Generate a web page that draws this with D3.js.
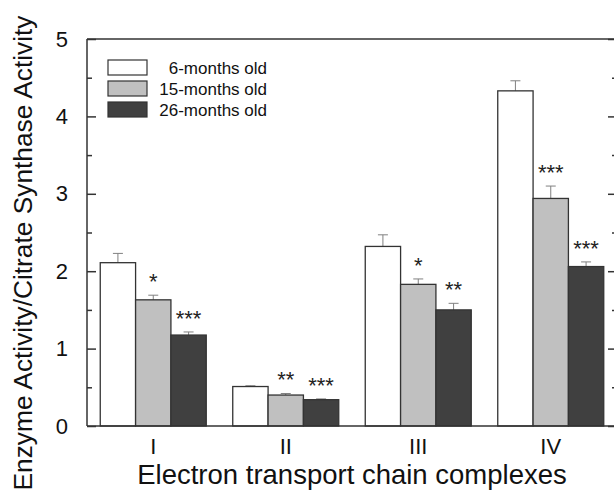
<!DOCTYPE html>
<html><head><meta charset="utf-8">
<script src="https://cdn.jsdelivr.net/npm/d3@7"></script>
<style>html,body{margin:0;padding:0;background:#fff;}svg{display:block;font-family:"Liberation Sans",Arial,sans-serif;}</style>
</head><body><svg id="c" width="614" height="491"></svg>
<script>
const categories = ["I", "II", "III", "IV"];
const seriesNames = ["6-months old", "15-months old", "26-months old"];
const values6 = [2.11, 0.51, 2.32, 4.33];
const values15 = [1.63, 0.40, 1.83, 2.94];
const values26 = [1.175, 0.34, 1.50, 2.06];
const err6 = [0.12, 0.01, 0.15, 0.13];
const err15 = [0.06, 0.02, 0.07, 0.16];
const err26 = [0.04, 0.01, 0.085, 0.06];
const sig6 = ["", "", "", ""];
const sig15 = ["*", "**", "*", "***"];
const sig26 = ["***", "***", "**", "***"];
const yTicks = [0, 1, 2, 3, 4, 5];
const yMinor = [0.5, 1.5, 2.5, 3.5, 4.5];
const fills = ["#ffffff", "#c0c0c0", "#404040"];

const allVals = [values6, values15, values26];
const allErr = [err6, err15, err26];
const allSig = [sig6, sig15, sig26];

const svg = d3.select("#c");
const L = 87, R = 617, T = 39, B = 426;
const x = d3.scaleBand().domain(categories).range([L, R]).paddingInner(0.2).paddingOuter(0.1);
const xs = d3.scaleBand().domain(d3.range(seriesNames.length)).range([0, x.bandwidth()]);
const y = d3.scaleLinear().domain([0, 5]).range([B, T]);

const data = [];
categories.forEach((c, i) => seriesNames.forEach((s, j) => data.push({c, j, v: allVals[j][i], e: allErr[j][i], sig: allSig[j][i]})));

// error bars (behind bars)
const eg = svg.append("g").attr("stroke", "#808080").attr("stroke-width", 1);
data.forEach(d => {
  const cx = x(d.c) + xs(d.j) + xs.bandwidth() / 2;
  eg.append("line").attr("x1", cx).attr("x2", cx).attr("y1", y(d.v)).attr("y2", y(d.v + d.e));
  eg.append("line").attr("x1", cx - 5).attr("x2", cx + 5).attr("y1", y(d.v + d.e)).attr("y2", y(d.v + d.e));
});

svg.append("g").selectAll("rect").data(data).join("rect")
  .attr("x", d => x(d.c) + xs(d.j))
  .attr("width", xs.bandwidth())
  .attr("y", d => y(d.v))
  .attr("height", d => y(0) - y(d.v))
  .attr("fill", d => fills[d.j])
  .attr("stroke", "#333")
  .attr("stroke-width", 1.3);

svg.append("g").selectAll("text").data(data.filter(d => d.sig)).join("text")
  .attr("x", d => x(d.c) + xs(d.j) + xs.bandwidth() / 2)
  .attr("y", d => y(d.v + d.e) - 6)
  .attr("text-anchor", "middle")
  .attr("font-size", 22)
  .attr("fill", "#222")
  .text(d => d.sig);

// frame
const ax = svg.append("g").attr("stroke", "#333").attr("stroke-width", 1.5).attr("fill", "none");
ax.append("line").attr("x1", L).attr("x2", R).attr("y1", B).attr("y2", B);
ax.append("line").attr("x1", L).attr("x2", R).attr("y1", T).attr("y2", T);
ax.append("line").attr("x1", L).attr("x2", L).attr("y1", T).attr("y2", B);
ax.append("line").attr("x1", R).attr("x2", R).attr("y1", T).attr("y2", B);

// y axes with inward ticks
const leftAxis = d3.axisLeft(y).tickValues(yTicks).tickSize(-9).tickPadding(19).tickFormat(d3.format("d"));
const gl = svg.append("g").attr("transform", `translate(${L},0)`).call(leftAxis);
gl.select(".domain").remove();
gl.selectAll(".tick line").attr("stroke", "#333").attr("stroke-width", 1.5);
gl.selectAll(".tick text").attr("font-size", 22).attr("fill", "#111").attr("font-family", "Liberation Sans, Arial, sans-serif");
const glm = svg.append("g").attr("transform", `translate(${L},0)`).call(d3.axisLeft(y).tickValues(yMinor).tickSize(-5).tickFormat(""));
glm.select(".domain").remove();
glm.selectAll(".tick line").attr("stroke", "#333").attr("stroke-width", 1.5);

const gr = svg.append("g").attr("transform", `translate(${R},0)`).call(d3.axisRight(y).tickValues(yTicks).tickSize(-9).tickFormat(""));
gr.select(".domain").remove();
gr.selectAll(".tick line").attr("stroke", "#333").attr("stroke-width", 1.5);
const grm = svg.append("g").attr("transform", `translate(${R},0)`).call(d3.axisRight(y).tickValues(yMinor).tickSize(-5).tickFormat(""));
grm.select(".domain").remove();
grm.selectAll(".tick line").attr("stroke", "#333").attr("stroke-width", 1.5);

// x axis labels
const gx = svg.append("g").attr("transform", `translate(0,${B})`).call(d3.axisBottom(x).tickSize(0).tickPadding(12.5));
gx.select(".domain").remove();
gx.selectAll(".tick text").attr("font-size", 22).attr("fill", "#111").attr("font-family", "Liberation Sans, Arial, sans-serif");

// titles
svg.append("text").attr("x", (L + R) / 2).attr("y", 484).attr("text-anchor", "middle")
  .attr("font-size", 27.5).attr("fill", "#111").text("Electron transport chain complexes");
svg.append("text").attr("transform", "translate(32,253) rotate(-90)").attr("text-anchor", "middle")
  .attr("font-size", 26.3).attr("fill", "#111").text("Enzyme Activity/Citrate Synthase Activity");

// legend
const lg = svg.append("g");
seriesNames.forEach((s, j) => {
  const yy = 60 + j * 21;
  lg.append("rect").attr("x", 108).attr("y", yy).attr("width", 39).attr("height", 15)
    .attr("fill", fills[j]).attr("stroke", "#333").attr("stroke-width", 1.2);
  lg.append("text").attr("x", 267).attr("y", yy + 13.5).attr("text-anchor", "end")
    .attr("font-size", 17).attr("fill", "#111").text(s);
});
</script></body></html>
